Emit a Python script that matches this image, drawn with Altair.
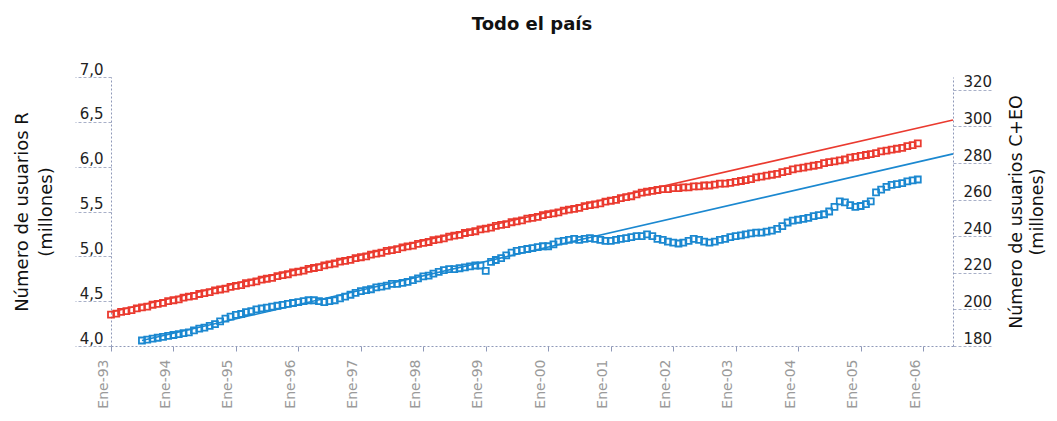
import altair as alt
import pandas as pd

# ---- data ----
# Número de usuarios R (millones), monthly Jan-1993 .. Dec-2005
r93 = [4.35, 4.36, 4.38, 4.39, 4.40, 4.42, 4.43, 4.44, 4.46, 4.47, 4.48, 4.50]
r94 = [4.51, 4.52, 4.54, 4.55, 4.56, 4.58, 4.59, 4.60, 4.62, 4.63, 4.64, 4.66]
r95 = [4.67, 4.68, 4.70, 4.71, 4.72, 4.74, 4.75, 4.76, 4.78, 4.79, 4.80, 4.82]
r96 = [4.83, 4.84, 4.86, 4.87, 4.88, 4.90, 4.91, 4.92, 4.94, 4.95, 4.96, 4.98]
r97 = [4.99, 5.00, 5.02, 5.03, 5.04, 5.06, 5.07, 5.08, 5.10, 5.11, 5.12, 5.14]
r98 = [5.15, 5.16, 5.18, 5.19, 5.20, 5.22, 5.23, 5.24, 5.26, 5.27, 5.28, 5.30]
r99 = [5.31, 5.32, 5.34, 5.35, 5.36, 5.38, 5.39, 5.40, 5.42, 5.43, 5.44, 5.46]
r00 = [5.47, 5.48, 5.49, 5.51, 5.52, 5.53, 5.54, 5.56, 5.57, 5.58, 5.59, 5.61]
r01 = [5.62, 5.63, 5.65, 5.66, 5.67, 5.69, 5.71, 5.72, 5.73, 5.74, 5.75, 5.75]
r02 = [5.76, 5.76, 5.77, 5.77, 5.78, 5.78, 5.79, 5.79, 5.80, 5.81, 5.81, 5.82]
r03 = [5.83, 5.84, 5.85, 5.86, 5.88, 5.89, 5.90, 5.91, 5.92, 5.94, 5.95, 5.97]
r04 = [5.98, 5.99, 6.00, 6.01, 6.02, 6.04, 6.05, 6.06, 6.07, 6.08, 6.10, 6.11]
r05 = [6.12, 6.13, 6.14, 6.15, 6.17, 6.18, 6.19, 6.20, 6.21, 6.23, 6.24, 6.26]

# Número de usuarios C+EO (millones), monthly Jul-1993 .. Dec-2005
b93 = [183, 183.5, 184, 184.5, 185, 185.5]
b94 = [186, 186.5, 187, 187.5, 188.5, 189.5, 190, 191, 192, 193.5, 195, 196]
b95 = [197, 197.5, 198.5, 199, 200, 200.5, 201, 201.5, 202, 202.5, 203, 203.5]
b96 = [204, 204.5, 205, 205, 204.5, 204, 204.5, 205, 206, 207, 208, 209]
b97 = [210, 210.5, 211, 212, 212.5, 213, 214, 214, 214.5, 215, 216, 217]
b98 = [218, 218.5, 219.5, 220.5, 221.5, 222, 222, 222.5, 223, 223.5, 224, 224]
b99 = [221, 226, 227, 228, 229.5, 231, 232, 232.5, 233, 233.5, 234, 234.5]
b00 = [234.5, 235.5, 237, 237.5, 238, 238.5, 238, 238.5, 239, 238.5, 238, 237.5]
b01 = [237.5, 238, 238.5, 239, 239.5, 240, 240, 241, 240, 238.5, 238, 237]
b02 = [236.5, 236, 236.5, 237.5, 238.5, 238, 237, 236.5, 237, 238, 238.5, 239.5]
b03 = [240, 240.5, 241, 241.5, 242, 242, 242.5, 243, 244, 245.5, 247.5, 248.5]
b04 = [249, 249.5, 250, 251, 251.5, 252, 253.5, 256, 259, 258.5, 257, 256]
b05 = [256.5, 257.5, 259, 264, 265.5, 267, 268, 268.5, 269, 270, 270.5, 271]

red_start = "1993-01-01"
blue_start = "1993-07-01"

# trend lines (start / end)
red_trend_dates = ["1993-01-01", "2006-06-25"]
red_trend_vals = [4.38, 6.52]
blue_trend_dates = ["1993-07-01", "2006-06-25"]
blue_trend_vals = [183, 285]

left_ticks = [4.0, 4.5, 5.0, 5.5, 6.0, 6.5, 7.0]
right_ticks = [180, 200, 220, 240, 260, 280, 300, 320]
tick_years = list(range(1993, 2007))

RED = "#ea3a2f"
BLUE = "#1b88d0"
AXC = "#8f99b8"
FONT = "DejaVu Sans"

red_vals = r93 + r94 + r95 + r96 + r97 + r98 + r99 + r00 + r01 + r02 + r03 + r04 + r05
blue_vals = b93 + b94 + b95 + b96 + b97 + b98 + b99 + b00 + b01 + b02 + b03 + b04 + b05

red_df = pd.DataFrame({
    "fecha": pd.date_range(red_start, periods=len(red_vals), freq="MS").strftime("%Y-%m-%d"),
    "valor": red_vals,
})
blue_df = pd.DataFrame({
    "fecha": pd.date_range(blue_start, periods=len(blue_vals), freq="MS").strftime("%Y-%m-%d"),
    "valor": blue_vals,
})
red_tr = pd.DataFrame({"fecha": red_trend_dates, "valor": red_trend_vals})
blue_tr = pd.DataFrame({"fecha": blue_trend_dates, "valor": blue_trend_vals})

x_enc = alt.X(
    "fecha:T",
    scale=alt.Scale(
        type="utc",
        domain=[alt.DateTime(year=1993, month=1, date=1, utc=True),
                alt.DateTime(year=2006, month=6, date=25, utc=True)],
    ),
    axis=alt.Axis(
        title=None,
        values=[alt.DateTime(year=y, month=1, date=1, utc=True) for y in tick_years],
        labelExpr="'Ene-' + utcFormat(datum.value, '%y')",
        labelAngle=270,
        labelAlign="right",
        labelBaseline="middle",
        labelPadding=8,
        labelOffset=-8,
        labelFont=FONT,
        labelFontSize=14,
        labelColor="#9a9a9a",
        labelFlush=False,
        labelOverlap=False,
        grid=False,
        domainColor=AXC,
        domainDash=[2, 2],
        tickColor=AXC,
        tickSize=5,
    ),
)

y_left = alt.Y(
    "valor:Q",
    scale=alt.Scale(domain=[4, 7], nice=False, zero=False),
    axis=alt.Axis(
        orient="left",
        title=["Número de usuarios R", "(millones)"],
        values=left_ticks,
        labelExpr="replace(format(datum.value, '.1f'), '.', ',')",
        grid=False,
        domainColor=AXC,
        domainDash=[2, 2],
        tickColor="#a8b0c8",
        tickDash=[3, 2],
        tickSize=36,
        labelPadding=-28,
        labelBaseline="bottom",
        labelFont=FONT,
        labelFontSize=15,
        labelColor="#222222",
        titleFont=FONT,
        titleFontSize=18,
        titleFontWeight="normal",
        titleColor="#111111",
        titleLineHeight=24,
        titlePadding=19,
    ),
)

y_right = alt.Y(
    "valor:Q",
    scale=alt.Scale(domain=[180, 327], nice=False, zero=False),
    axis=alt.Axis(
        orient="right",
        title=["Número de usuarios C+EO", "(millones)"],
        values=right_ticks,
        format="d",
        grid=False,
        domainColor=AXC,
        domainDash=[2, 2],
        tickColor="#a8b0c8",
        tickDash=[3, 2],
        tickSize=40,
        labelPadding=-30,
        labelBaseline="bottom",
        labelFont=FONT,
        labelFontSize=15,
        labelColor="#222222",
        titleFont=FONT,
        titleFontSize=17.5,
        titleFontWeight="normal",
        titleColor="#111111",
        titleLineHeight=21,
        titlePadding=-7,
        titleAngle=270,
        titleBaseline="top",
    ),
)

red_line = alt.Chart(red_tr).mark_line(color=RED, strokeWidth=1.6).encode(x=x_enc, y=y_left)
red_pts = alt.Chart(red_df).mark_point(
    shape="square", filled=False, size=36, strokeWidth=1.8, color=RED, opacity=1
).encode(x=x_enc, y=y_left)

blue_line = alt.Chart(blue_tr).mark_line(color=BLUE, strokeWidth=1.6).encode(x=x_enc, y=y_right)
blue_pts = alt.Chart(blue_df).mark_point(
    shape="square", filled=False, size=36, strokeWidth=1.8, color=BLUE, opacity=1
).encode(x=x_enc, y=y_right)

chart = (
    alt.layer(alt.layer(red_line, red_pts), alt.layer(blue_line, blue_pts))
    .resolve_scale(y="independent")
    .properties(
        width=842,
        height=269,
        padding={"left": 5, "top": 8, "right": 0, "bottom": 0},
        title=alt.TitleParams(
            "Todo el país", font=FONT, fontSize=18, fontWeight="bold",
            color="#111111", offset=28,
        ),
    )
    .configure_view(stroke=None)
)

chart.save("out.html", embed_options={"renderer": "svg", "actions": False})
